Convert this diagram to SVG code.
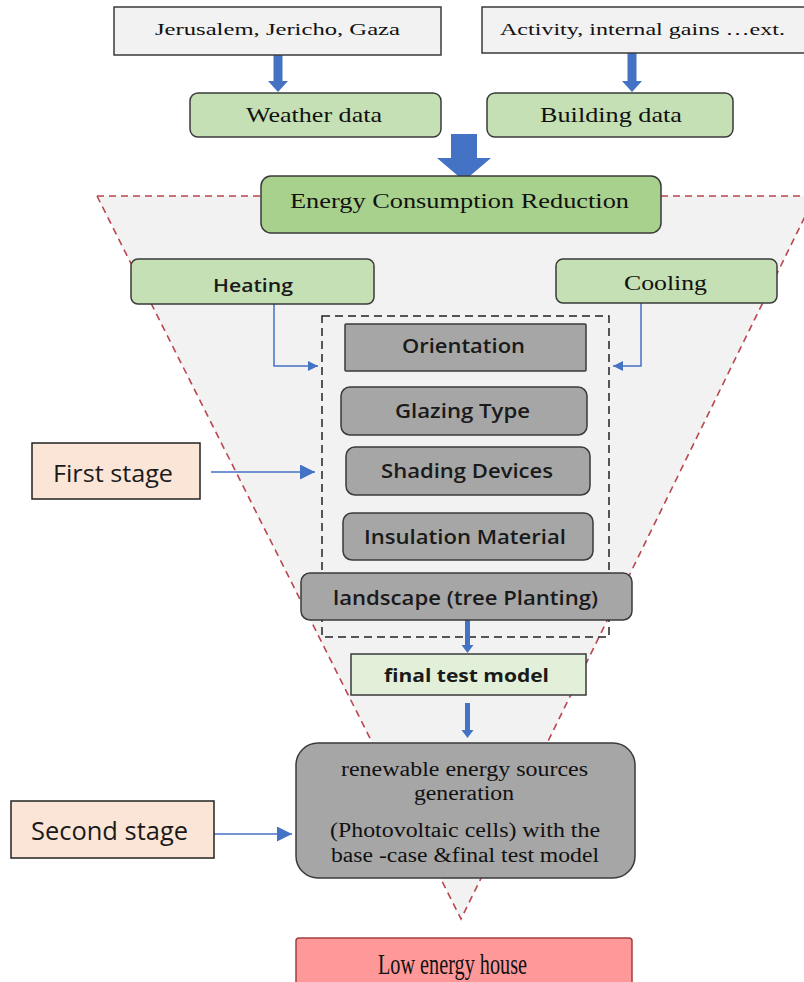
<svg xmlns="http://www.w3.org/2000/svg" width="804" height="982" viewBox="0 0 804 982">
<defs>
<style>
.serif{font-family:"Liberation Serif","Times New Roman",serif;fill:#111}
.sans{font-family:"Open Sans","Liberation Sans",sans-serif;fill:#1a1a1a}
.box{stroke:#3a3a3a;stroke-width:1.5}
.plain{fill:#f2f2f2}
.green{fill:#c5e0b4}
.dgreen{fill:#a9d18e}
.gray{fill:#a6a6a6}
.lgreen{fill:#e2f0d9}
.peach{fill:#fbe5d6;stroke:#222;stroke-width:1.5}
.pink{fill:#ff9999;stroke:#a04040;stroke-width:1.5}
.thin{fill:none;stroke:#4472c4;stroke-width:1.5}
.block{fill:#4472c4}
</style>
<marker id="ah" viewBox="0 0 10 10" refX="10" refY="5" markerWidth="10" markerHeight="10" markerUnits="userSpaceOnUse" orient="auto">
<path d="M0 0 L10 5 L0 10 Z" fill="#4472c4"/>
</marker>
<marker id="ahL" viewBox="0 0 10 10" refX="10" refY="5" markerWidth="15" markerHeight="15" markerUnits="userSpaceOnUse" orient="auto">
<path d="M0 0 L10 5 L0 10 Z" fill="#4472c4"/>
</marker>
</defs>
<rect width="804" height="982" fill="#ffffff"/>

<g id="funnel">
<path d="M97 196 L815 196 L461 919 Z" fill="#f2f2f2"/>
<path d="M97 196 L815 196 M97 196 L461 919 L815 196" fill="none" stroke="#b9474f" stroke-width="1.6" stroke-dasharray="7 5"/>
</g>

<g id="stage-box">
<rect x="322" y="316" width="287" height="321" fill="none" stroke="#222" stroke-width="1.5" stroke-dasharray="8 5"/>
</g>

<g id="connectors">
<polygon class="block" points="273.5,55 282.5,55 282.5,81 288,81 278,92 268,81 273.5,81"/>
<polygon class="block" points="627.5,53 636.5,53 636.5,81 642,81 632,92 622,81 627.5,81"/>
<polygon class="block" points="451,134 477,134 477,158 491,158 464,181 437,158 451,158"/>
<path class="thin" d="M274 304 V366 H318" marker-end="url(#ah)"/>
<path class="thin" d="M641 303 V366 H613" marker-end="url(#ah)"/>
<path class="thin" d="M211 472 H315" marker-end="url(#ahL)"/>
<path class="thin" d="M214 834 H292" marker-end="url(#ahL)"/>
<polygon class="block" points="465,620 470,620 470,645 473.5,645 467.5,653 461.5,645 465,645"/>
<polygon class="block" points="465,703 470,703 470,730 473.5,730 467.5,738 461.5,730 465,730"/>
</g>

<g id="n-jerusalem">
<rect class="box plain" x="114" y="7" width="327" height="48"/>
<text class="serif" x="155" y="35" font-size="17" textLength="245" lengthAdjust="spacingAndGlyphs">Jerusalem, Jericho, Gaza</text>
</g>
<g id="n-activity">
<rect class="box plain" x="482" y="7" width="330" height="46"/>
<text class="serif" x="500" y="35" font-size="17" textLength="285" lengthAdjust="spacingAndGlyphs">Activity, internal gains …ext.</text>
</g>
<g id="n-weather">
<rect class="box green" x="190" y="93" width="251" height="44" rx="8"/>
<text class="serif" x="246" y="122" font-size="22" textLength="136" lengthAdjust="spacingAndGlyphs">Weather data</text>
</g>
<g id="n-building">
<rect class="box green" x="487" y="93" width="246" height="44" rx="8"/>
<text class="serif" x="540" y="122" font-size="22" textLength="142" lengthAdjust="spacingAndGlyphs">Building data</text>
</g>
<g id="n-ecr">
<rect class="box dgreen" x="261" y="176" width="400" height="57" rx="10"/>
<text class="serif" x="290" y="208" font-size="20" textLength="339" lengthAdjust="spacingAndGlyphs">Energy Consumption Reduction</text>
</g>
<g id="n-heating">
<rect class="box green" x="131" y="259" width="243" height="45" rx="7"/>
<text class="sans" x="213" y="292" font-size="18" font-weight="600" textLength="80" lengthAdjust="spacingAndGlyphs">Heating</text>
</g>
<g id="n-cooling">
<rect class="box green" x="556" y="259" width="221" height="44" rx="7"/>
<text class="serif" x="624" y="290" font-size="22" textLength="83" lengthAdjust="spacingAndGlyphs">Cooling</text>
</g>
<g id="n-orientation">
<rect class="box gray" x="345" y="324" width="241" height="47" rx="1"/>
<text class="sans" x="402" y="353" font-size="19" font-weight="600" textLength="123" lengthAdjust="spacingAndGlyphs">Orientation</text>
</g>
<g id="n-glazing">
<rect class="box gray" x="341" y="387" width="246" height="48" rx="9"/>
<text class="sans" x="395" y="418" font-size="19" font-weight="600" textLength="135" lengthAdjust="spacingAndGlyphs">Glazing Type</text>
</g>
<g id="n-shading">
<rect class="box gray" x="346" y="447" width="244" height="48" rx="9"/>
<text class="sans" x="381" y="478" font-size="19" font-weight="600" textLength="172" lengthAdjust="spacingAndGlyphs">Shading Devices</text>
</g>
<g id="n-insulation">
<rect class="box gray" x="343" y="513" width="250" height="47" rx="9"/>
<text class="sans" x="364" y="544" font-size="19" font-weight="600" textLength="202" lengthAdjust="spacingAndGlyphs">Insulation Material</text>
</g>
<g id="n-landscape">
<rect class="box gray" x="301" y="573" width="331" height="47" rx="9"/>
<text class="sans" x="333" y="605" font-size="19" font-weight="600" textLength="265" lengthAdjust="spacingAndGlyphs">landscape (tree Planting)</text>
</g>
<g id="n-final">
<rect class="box lgreen" x="351" y="654" width="235" height="41"/>
<text class="sans" x="384" y="682" font-size="18" font-weight="700" textLength="165" lengthAdjust="spacingAndGlyphs">final test model</text>
</g>
<g id="n-renewable">
<rect class="box gray" x="296" y="743" width="339" height="135" rx="22"/>
<text class="serif" x="341" y="776" font-size="20" textLength="247" lengthAdjust="spacingAndGlyphs">renewable energy sources</text>
<text class="serif" x="414" y="800" font-size="20" textLength="100" lengthAdjust="spacingAndGlyphs">generation</text>
<text class="serif" x="330" y="837" font-size="20" textLength="270" lengthAdjust="spacingAndGlyphs">(Photovoltaic cells) with the</text>
<text class="serif" x="331" y="862" font-size="20" textLength="268" lengthAdjust="spacingAndGlyphs">base -case &amp;final test model</text>
</g>
<g id="n-low">
<rect class="pink" x="296" y="938" width="336" height="50" rx="3"/>
<text class="serif" x="378" y="974" font-size="29" textLength="149" lengthAdjust="spacingAndGlyphs">Low energy house</text>
</g>
<g id="n-first">
<rect class="peach" x="32" y="443" width="168" height="56"/>
<text class="sans" x="53" y="482" font-size="24" textLength="120" lengthAdjust="spacingAndGlyphs">First stage</text>
</g>
<g id="n-second">
<rect class="peach" x="11" y="801" width="203" height="57"/>
<text class="sans" x="31" y="840" font-size="26" textLength="157" lengthAdjust="spacingAndGlyphs">Second stage</text>
</g>
</svg>
